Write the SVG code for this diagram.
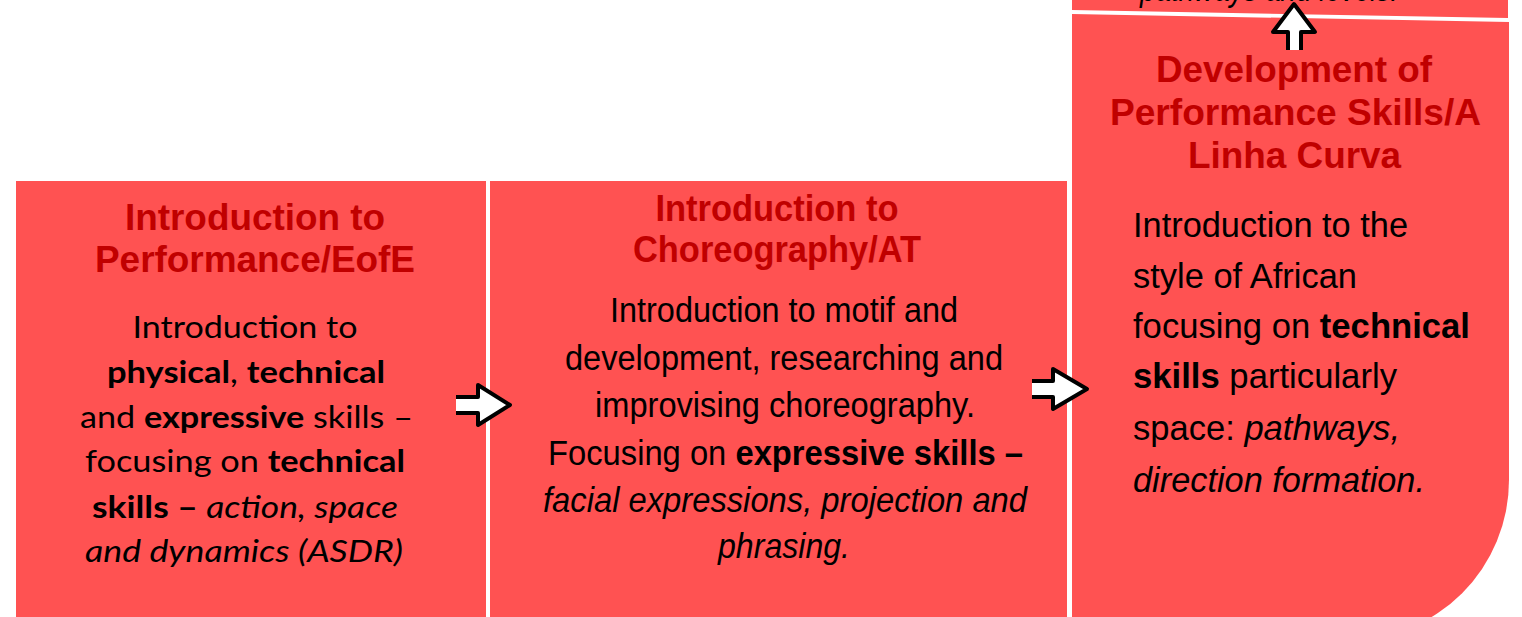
<svg xmlns="http://www.w3.org/2000/svg" width="1522" height="617" viewBox="0 0 1522 617">
<style>
.box{fill:#FF5252;}
.title{font-family:"Liberation Sans",Arial,sans-serif;font-weight:bold;font-size:36px;fill:#C00000;text-anchor:middle;}
.b1{font-family:Lato,"Open Sans",sans-serif;font-size:30px;fill:#000;text-anchor:middle;}
.b2{font-family:"Liberation Sans",Arial,sans-serif;font-size:35px;fill:#000;text-anchor:middle;}
.b3{font-family:"Liberation Sans",Arial,sans-serif;font-size:34.5px;fill:#000;}
.bd{font-weight:bold;}
.it{font-style:italic;}
.arrowfill{fill:#fff;stroke:none;}
.arrowline{fill:none;stroke:#000;stroke-width:4;stroke-linejoin:round;}
</style>
<rect width="1522" height="617" fill="#fff"/>

<g id="node-top">
<polygon class="box" points="1072,-10 1508,-10 1508,18 1072,10"/>
<text class="b3 it" x="1140" y="1" textLength="258" lengthAdjust="spacingAndGlyphs">pathways and levels.</text>
</g>

<g id="node-performance">
<rect class="box" x="16" y="181" width="470" height="440"/>
<text class="title" x="255" y="230" textLength="260" lengthAdjust="spacingAndGlyphs">Introduction to</text>
<text class="title" x="255" y="272" textLength="320" lengthAdjust="spacingAndGlyphs">Performance/EofE</text>
<text class="b1" x="245" y="338" textLength="225" lengthAdjust="spacingAndGlyphs">Introduction to</text>
<text class="b1" x="246" y="383" textLength="278" lengthAdjust="spacingAndGlyphs"><tspan class="bd">physical</tspan>, <tspan class="bd">technical</tspan></text>
<text class="b1" x="246.5" y="428" textLength="333" lengthAdjust="spacingAndGlyphs">and <tspan class="bd">expressive</tspan> skills –</text>
<text class="b1" x="245" y="472" textLength="320" lengthAdjust="spacingAndGlyphs">focusing on <tspan class="bd">technical</tspan></text>
<text class="b1" x="245" y="518" textLength="306" lengthAdjust="spacingAndGlyphs"><tspan class="bd">skills –</tspan><tspan class="it"> action, space</tspan></text>
<text class="b1 it" x="244" y="562" textLength="318" lengthAdjust="spacingAndGlyphs">and dynamics (ASDR)</text>
</g>

<g id="node-choreography">
<rect class="box" x="490" y="181" width="577" height="440"/>
<text class="title" x="777" y="221" textLength="243" lengthAdjust="spacingAndGlyphs">Introduction to</text>
<text class="title" x="777" y="262" textLength="288" lengthAdjust="spacingAndGlyphs">Choreography/AT</text>
<text class="b2" x="784" y="322" textLength="348" lengthAdjust="spacingAndGlyphs">Introduction to motif and</text>
<text class="b2" x="784" y="370" textLength="438" lengthAdjust="spacingAndGlyphs">development, researching and</text>
<text class="b2" x="785" y="417" textLength="380" lengthAdjust="spacingAndGlyphs">improvising choreography.</text>
<text class="b2" x="785.5" y="465" textLength="475" lengthAdjust="spacingAndGlyphs">Focusing on <tspan class="bd">expressive skills –</tspan></text>
<text class="b2 it" x="785" y="512" textLength="484" lengthAdjust="spacingAndGlyphs">facial expressions, projection and</text>
<text class="b2 it" x="784" y="558" textLength="132" lengthAdjust="spacingAndGlyphs">phrasing.</text>
</g>

<g id="node-development">
<path class="box" d="M1072,14 L1509,22 L1509,480 A160,160 0 0 1 1349,640 L1072,640 Z"/>
<text class="title" x="1294" y="82" textLength="276" lengthAdjust="spacingAndGlyphs">Development of</text>
<text class="title" x="1295.5" y="125" textLength="371" lengthAdjust="spacingAndGlyphs">Performance Skills/A</text>
<text class="title" x="1294.5" y="168" textLength="213" lengthAdjust="spacingAndGlyphs">Linha Curva</text>
<text class="b3" x="1133" y="237" textLength="275" lengthAdjust="spacingAndGlyphs">Introduction to the</text>
<text class="b3" x="1133" y="288" textLength="224" lengthAdjust="spacingAndGlyphs">style of African</text>
<text class="b3" x="1133" y="338" textLength="337" lengthAdjust="spacingAndGlyphs">focusing on <tspan class="bd">technical</tspan></text>
<text class="b3" x="1133" y="388" textLength="264" lengthAdjust="spacingAndGlyphs"><tspan class="bd">skills</tspan> particularly</text>
<text class="b3" x="1133" y="440" textLength="267" lengthAdjust="spacingAndGlyphs">space: <tspan class="it">pathways,</tspan></text>
<text class="b3 it" x="1133" y="492" textLength="292" lengthAdjust="spacingAndGlyphs">direction formation.</text>
</g>

<g id="connectors">
<g id="arrow-1">
<polygon class="arrowfill" points="456,397 478,397 478,385 510,405 478,425 478,413 456,413"/>
<polyline class="arrowline" points="456,397 478,397 478,385 510,405 478,425 478,413 456,413"/>
</g>
<g id="arrow-2">
<polygon class="arrowfill" points="1032,381 1053,381 1053,369 1087,389 1053,409 1053,397 1032,397"/>
<polyline class="arrowline" points="1032,381 1053,381 1053,369 1087,389 1053,409 1053,397 1032,397"/>
</g>
<g id="arrow-3">
<polygon class="arrowfill" points="1288,50 1288,32 1273,32 1294,4 1315,32 1301,32 1301,50"/>
<polyline class="arrowline" points="1288,50 1288,32 1273,32 1294,4 1315,32 1301,32 1301,50"/>
</g>
</g>
</svg>
